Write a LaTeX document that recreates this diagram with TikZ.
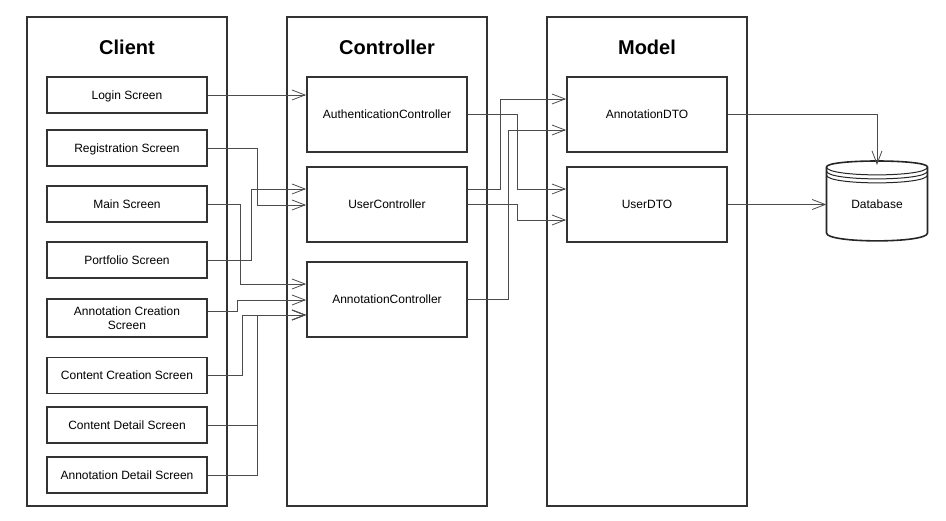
\documentclass[tikz,border=0pt]{standalone}
\usepackage{fontspec}
\setmainfont{Liberation Sans}
\usetikzlibrary{calc,arrows.meta}
\begin{document}
\begin{tikzpicture}[x=1pt,y=-1pt,
  layer/.style={draw=black!80,line width=1.8pt,minimum width=200pt,minimum height=489pt,inner sep=0pt},
  title/.style={font=\fontsize{20}{24}\selectfont\bfseries},
  comp/.style={draw=black!80,line width=1.8pt,minimum width=160pt,inner sep=1pt,align=center,
    text height=10.5pt,text depth=1.5pt,font=\fontsize{12}{13.5}\selectfont},
  screen/.style={comp,minimum height=36pt},
  unit/.style={comp,minimum height=75pt},
  conn/.style={draw=black!70,line width=0.9pt,-{Straight Barb[length=13pt,width=10pt,line width=0.8pt]}}]
\useasboundingbox (0,0) rectangle (946,521);

% three layers
\node[layer] (client) at (127,261.5) {};
\node[layer] (ctrl) at (387,261.5) {};
\node[layer] (model) at (647,261.5) {};
\node[title] (tclient) at (127,47.5) {Client};
\node[title] (tctrl) at (387,47.5) {Controller};
\node[title] (tmodel) at (647,47.5) {Model};

% client screens
\node[screen] (login) at (127,95) {Login Screen};
\node[screen] (reg) at (127,148) {Registration Screen};
\node[screen] (main) at (127,204) {Main Screen};
\node[screen] (port) at (127,260) {Portfolio Screen};
\node[screen,minimum height=38pt,text height=,text depth=] (acs) at (127,318) {Annotation Creation\\Screen};
\node[screen] (ccs) at (127,375.5) {Content Creation Screen};
\node[screen] (cds) at (127,425) {Content Detail Screen};
\node[screen] (ads) at (127,475) {Annotation Detail Screen};

% controllers
\node[unit] (auth) at (387,114.5) {AuthenticationController};
\node[unit] (user) at (387,204.5) {UserController};
\node[unit] (annc) at (387,299.5) {AnnotationController};

% model objects
\node[unit] (adto) at (647,114.5) {AnnotationDTO};
\node[unit] (udto) at (647,204.5) {UserDTO};

% database cylinder
\node[minimum width=101pt,minimum height=78pt,inner sep=0pt] (db) at (877,204.5) {};
\coordinate (dbtop) at (877,165);
\draw[draw=black!85,line width=1.6pt,fill=white]
  (826.5,167) .. controls (826.5,159) and (927.5,159) .. (927.5,167)
  -- (927.5,233) .. controls (927.5,243.5) and (826.5,243.5) .. (826.5,233) -- cycle;
\draw[draw=black!85,line width=1pt]
  (826.5,167) .. controls (826.5,177.5) and (927.5,177.5) .. (927.5,167)
  (826.5,171) .. controls (826.5,181.5) and (927.5,181.5) .. (927.5,171)
  (826.5,175) .. controls (826.5,185.5) and (927.5,185.5) .. (927.5,175);
\node[text height=10.5pt,text depth=1.5pt,font=\fontsize{12}{13.5}\selectfont] (dblabel) at (db) {Database};

% client -> controller
\draw[conn] (login.east) -- ($(auth.west)+(0,-19.5)$);
\draw[conn] (reg.east) -- ++(50,0) |- ($(user.west)+(0,0.5)$);
\draw[conn] (main.east) -- ++(33,0) |- ($(annc.west)+(0,-15.5)$);
\draw[conn] (port.east) -- ++(44,0) |- ($(user.west)+(0,-15.5)$);
\draw[conn] ($(acs.east)+(0,-7)$) -- ++(30,0) |- ($(annc.west)+(0,0.5)$);
\draw[conn] (ccs.east) -- ++(35,0) |- ($(annc.west)+(0,15.5)$);
\draw[conn] (cds.east) -- ++(50,0) |- ($(annc.west)+(0,15.5)$);
\draw[conn] (ads.east) -- ++(50,0) |- ($(annc.west)+(0,15.5)$);

% controller -> model
\draw[conn] (auth.east) -- ++(50,0) |- ($(udto.west)+(0,-15.5)$);
\draw[conn] ($(user.east)+(0,-15.5)$) -- ++(33,0) |- ($(adto.west)+(0,-15.5)$);
\draw[conn] (user.east) -- ++(50,0) |- ($(udto.west)+(0,15.5)$);
\draw[conn] (annc.east) -- ++(41,0) |- ($(adto.west)+(0,15.5)$);

% model -> database
\draw[conn] (adto.east) -| (dbtop);
\draw[conn] (udto.east) -- (db.west);
\end{tikzpicture}
\end{document}
